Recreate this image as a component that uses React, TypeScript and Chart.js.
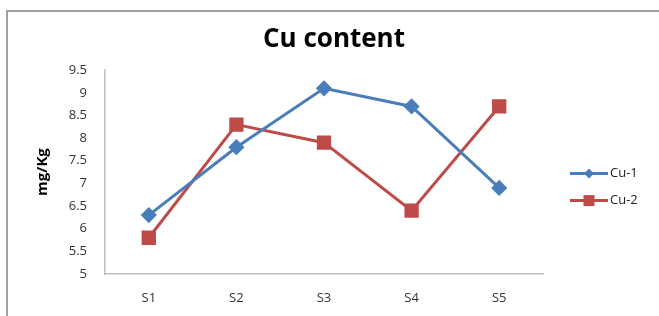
import React, { useEffect, useRef } from "react";
import { Chart, registerables } from "chart.js";

Chart.register(...registerables);

const categories = ["S1", "S2", "S3", "S4", "S5"];
const cu1 = [6.3, 7.8, 9.1, 8.7, 6.9];
const cu2 = [5.8, 8.3, 7.9, 6.4, 8.7];
const seriesNames = ["Cu-1", "Cu-2"];
const chartTitle = "Cu content";
const yTitle = "mg/Kg";
const yMin = 5;
const yMax = 9.5;
const yStep = 0.5;

const BLUE = "#4A7EBB";
const RED = "#BE4B48";
const FONT = "'Open Sans', 'Liberation Sans', sans-serif";

const legendPlugin = {
  id: "excelLegend",
  afterDraw(chart: any) {
    const { ctx, chartArea } = chart;
    const x0 = chartArea.right + 27;
    const lineLen = 38;
    const yc = (chartArea.top + chartArea.bottom) / 2 + 15;
    const gap = 27;
    const n = chart.data.datasets.length;
    ctx.save();
    chart.data.datasets.forEach((ds: any, i: number) => {
      const y = yc + (i - (n - 1) / 2) * gap;
      ctx.strokeStyle = ds.borderColor;
      ctx.lineWidth = 3;
      ctx.beginPath();
      ctx.moveTo(x0, y);
      ctx.lineTo(x0 + lineLen, y);
      ctx.stroke();
      ctx.fillStyle = ds.backgroundColor;
      const cx = x0 + lineLen / 2;
      if (ds.pointStyle === "rect") {
        ctx.fillRect(cx - 5.5, y - 5.5, 11, 11);
      } else {
        ctx.beginPath();
        ctx.moveTo(cx, y - 5);
        ctx.lineTo(cx + 5, y);
        ctx.lineTo(cx, y + 5);
        ctx.lineTo(cx - 5, y);
        ctx.closePath();
        ctx.fill();
      }
      ctx.fillStyle = "#222";
      ctx.font = `13px ${FONT}`;
      ctx.textBaseline = "middle";
      ctx.textAlign = "left";
      ctx.fillText(ds.label, x0 + lineLen + 2, y);
    });
    ctx.restore();
  },
};

export default function App() {
  const ref = useRef<HTMLCanvasElement>(null);
  useEffect(() => {
    if (!ref.current) return;
    const chart = new Chart(ref.current, {
      type: "line",
      data: {
        labels: categories,
        datasets: [
          {
            label: seriesNames[0],
            data: cu1,
            borderColor: BLUE,
            backgroundColor: BLUE,
            borderWidth: 3,
            pointStyle: "rectRot",
            pointRadius: 6,
            pointHoverRadius: 6,
            tension: 0,
          },
          {
            label: seriesNames[1],
            data: cu2,
            borderColor: RED,
            backgroundColor: RED,
            borderWidth: 3,
            pointStyle: "rect",
            pointRadius: 8,
            pointHoverRadius: 8,
            tension: 0,
          },
        ],
      },
      options: {
        animation: false,
        responsive: false,
        maintainAspectRatio: false,
        layout: { padding: { left: 9, right: 0, top: 24, bottom: 0 } },
        plugins: {
          legend: { display: false },
          tooltip: { enabled: false },
          title: {
            display: true,
            text: chartTitle,
            color: "#000",
            font: { family: FONT, size: 26, weight: "bold", lineHeight: 1.2 },
            padding: { top: 0, bottom: 15 },
          },
        },
        scales: {
          x: {
            offset: true,
            grid: { display: false, drawTicks: false },
            border: { display: true, color: "#BFBFBF", width: 1.5 },
            ticks: { color: "#333", font: { family: FONT, size: 13 }, padding: 16 },
            afterFit: (s: any) => {
              s.height = 42;
            },
          },
          y: {
            min: yMin,
            max: yMax,
            grid: { display: false, drawTicks: false },
            border: { display: true, color: "#BFBFBF", width: 1.5 },
            ticks: {
              stepSize: yStep,
              color: "#333",
              font: { family: FONT, size: 13 },
              padding: 18,
              callback: (v: any) => String(v),
            },
            title: {
              display: true,
              text: yTitle,
              color: "#000",
              font: { family: FONT, size: 15, weight: "bold", lineHeight: 1.0 },
              padding: { top: 26.5, bottom: 0 },
            },
            afterFit: (s: any) => {
              s.width = 96;
            },
          },
          yRightSpace: {
            position: "right",
            display: true,
            grid: { display: false, drawTicks: false },
            border: { display: false },
            ticks: { display: false },
            afterFit: (s: any) => {
              s.width = 116;
            },
          },
        },
      },
      plugins: [legendPlugin],
    });
    return () => chart.destroy();
  }, []);

  return (
    <div style={{ position: "fixed", left: 0, top: 0, width: 659, height: 316, background: "#fff", overflow: "hidden" }}>
      <div
        style={{
          position: "absolute",
          left: 6,
          top: 10,
          width: 700,
          height: 400,
          borderLeft: "2px solid #A0A0A0",
          borderTop: "2px solid #A0A0A0",
        }}
      />
      <canvas ref={ref} width={659} height={316} style={{ position: "absolute", left: 0, top: 0, width: 659, height: 316 }} />
    </div>
  );
}
